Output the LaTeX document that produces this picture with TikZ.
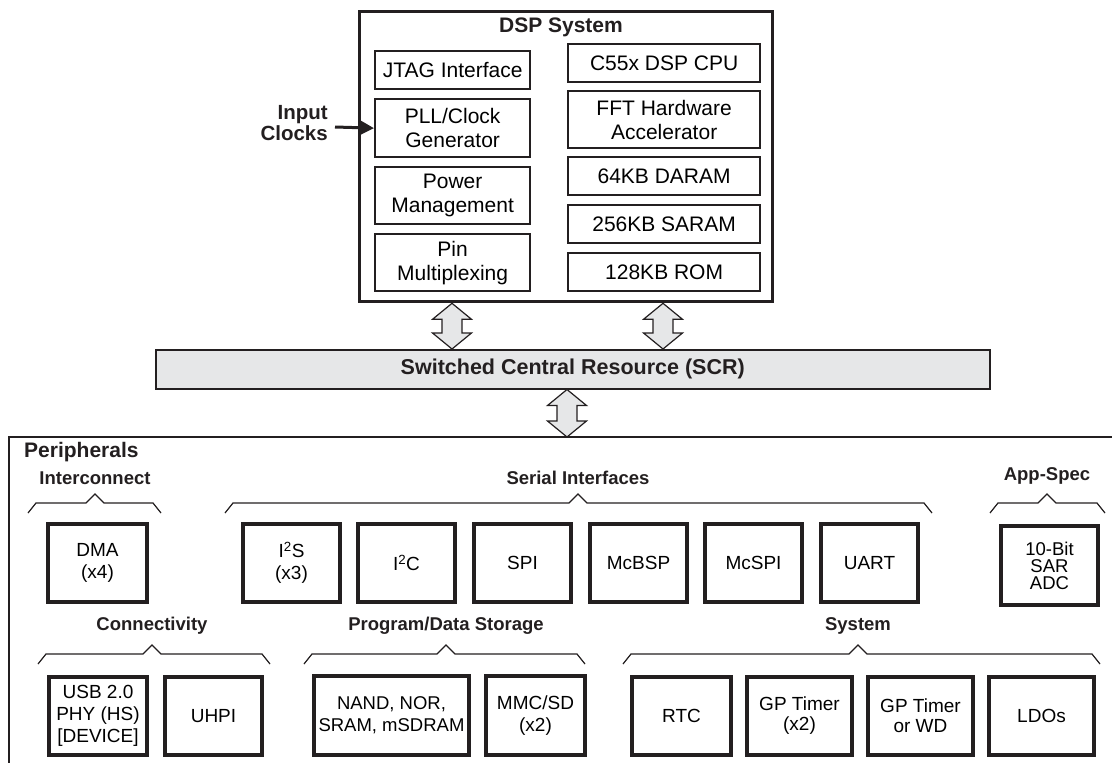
\documentclass[tikz,border=0pt]{standalone}
\usepackage{fontspec}
\setmainfont{Liberation Sans}
\usetikzlibrary{arrows.meta,calc}
\definecolor{ink}{HTML}{231F20}
\definecolor{scrgray}{HTML}{E6E7E8}
\tikzset{
  dspin/.style={draw=ink, line width=2.3pt, inner sep=0pt, align=center, anchor=north west, font=\fontsize{21}{24}\selectfont},
  pbox/.style={draw=ink, line width=4pt, inner sep=0pt, align=center, anchor=north west, font=\fontsize{19}{22}\selectfont},
  grp/.style={font=\bfseries\fontsize{18.5}{22}\selectfont, inner sep=0pt, text=ink},
  bracestyle/.style={draw=ink, line width=1.2pt, line join=miter},
  dbl/.style={draw=ink, fill=scrgray, line width=1.2pt, line join=miter},
}
\newcommand\dblarrow[3]{%
  \draw[dbl] let \p1=(#1,0 |- #2), \p2=(#1,0 |- #3) in
    (\x1,\y1) -- (\x1+19.5pt,\y1-16pt) -- (\x1+10pt,\y1-16pt) -- (\x1+10pt,\y2+16pt)
    -- (\x1+19.5pt,\y2+16pt) -- (\x1,\y2) -- (\x1-19.5pt,\y2+16pt) -- (\x1-10pt,\y2+16pt)
    -- (\x1-10pt,\y1-16pt) -- (\x1-19.5pt,\y1-16pt) -- cycle;}
\newcommand\grpbrace[4]{% x1, peak x, x2, y
  \draw[bracestyle] ({#1},{#4+10}) -- ({#1+8},{#4}) -- ({#2-9},{#4}) -- ({#2},{#4-9})
    -- ({#2+9},{#4}) -- ({#3-8},{#4}) -- ({#3},{#4+10});}
\begin{document}
\begin{tikzpicture}[x=1pt,y=-1pt]
\useasboundingbox (0,0) rectangle (1112,763);

% DSP system
\node[draw=ink, line width=3.3pt, anchor=north west, minimum width=413, minimum height=290, inner sep=0pt] (dsp) at (358,10) {};
\node[font=\bfseries\fontsize{21}{25}\selectfont, inner sep=0pt, text=ink] (dsptitle) at (561,27) {DSP System};

\node[dspin, minimum width=155, minimum height=38] (jtag) at (374,50) {JTAG Interface};
\node[dspin, minimum width=155, minimum height=58] (pll) at (374,98) {PLL/Clock\\Generator};
\node[dspin, minimum width=155, minimum height=57] (pwr) at (374,166) {Power\\Management};
\node[dspin, minimum width=155, minimum height=57] (pin) at (374,233) {Pin\\Multiplexing};

\node[dspin, minimum width=192, minimum height=38] (cpu) at (567,43) {C55x DSP CPU};
\node[dspin, minimum width=192, minimum height=57] (fft) at (567,90) {FFT Hardware\\Accelerator};
\node[dspin, minimum width=192, minimum height=38] (daram) at (567,156) {64KB DARAM};
\node[dspin, minimum width=192, minimum height=38] (saram) at (567,204) {256KB SARAM};
\node[dspin, minimum width=192, minimum height=38] (rom) at (567,252) {128KB ROM};

% input clocks
\node[font=\bfseries\fontsize{20.5}{21}\selectfont, align=right, anchor=east, inner sep=0pt, text=ink] (inclk) at (328,123) {Input\\Clocks};
\coordinate (clkin) at (335,127);
\draw[draw=ink, line width=3pt, -{Triangle[length=13pt,width=13pt]}] (clkin) -- (pll.west);

% SCR
\node[draw=ink, fill=scrgray, line width=1.5pt, anchor=north west, minimum width=834, minimum height=39, inner sep=0pt,
  font=\bfseries\fontsize{21.5}{25}\selectfont, text=ink] (scr) at (155,349) {Switched Central Resource (SCR)};

% peripherals outline
\draw[draw=ink, line width=2.8pt] (1112,437) -- (9,437) -- (9,763);
\coordinate (periph) at (567,437);

\dblarrow{452}{dsp.south}{scr.north}
\dblarrow{663}{dsp.south}{scr.north}
\dblarrow{567}{scr.south}{periph}

\node[font=\bfseries\fontsize{21}{25}\selectfont, anchor=west, inner sep=0pt, text=ink] (periphlbl) at (24,452) {Peripherals};

% row 1 groups
\node[grp] (gint) at (95,478) {Interconnect};
\grpbrace{28}{95}{161}{503}
\node[pbox, minimum width=99, minimum height=78] (dma) at (46,522) {DMA\\(x4)};

\node[grp] (gser) at (578,478) {Serial Interfaces};
\grpbrace{225}{578}{932}{503}
\node[pbox, minimum width=97, minimum height=78] (i2s) at (241,522) {I\textsuperscript{2}S\\(x3)};
\node[pbox, minimum width=97, minimum height=78] (i2c) at (356,522) {I\textsuperscript{2}C};
\node[pbox, minimum width=97, minimum height=78] (spi) at (472,522) {SPI};
\node[pbox, minimum width=97, minimum height=78] (mcbsp) at (588,522) {McBSP};
\node[pbox, minimum width=97, minimum height=78] (mcspi) at (703,522) {McSPI};
\node[pbox, minimum width=97, minimum height=78] (uart) at (819,522) {UART};

\node[grp] (gapp) at (1047,476) {App-Spec};
\grpbrace{990}{1047}{1105}{503}
\node[pbox, minimum width=97, minimum height=79, font=\fontsize{18.5}{17}\selectfont] (adc) at (999,524) {10-Bit\\SAR\\ADC};

% row 2 groups
\node[grp] (gcon) at (152,626) {Connectivity};
\grpbrace{38}{152}{270}{654}
\node[pbox, minimum width=98, minimum height=78] (usb) at (47,675) {USB 2.0\\PHY (HS)\\{}[DEVICE]};
\node[pbox, minimum width=97, minimum height=78] (uhpi) at (163,675) {UHPI};

\node[grp] (gstor) at (446,626) {Program/Data Storage};
\grpbrace{304}{446}{585}{654}
\node[pbox, minimum width=155, minimum height=79, font=\fontsize{18.5}{22}\selectfont] (nand) at (312,674) {NAND, NOR,\\SRAM, mSDRAM};
\node[pbox, minimum width=99, minimum height=79] (mmc) at (484,674) {MMC/SD\\(x2)};

\node[grp] (gsys) at (858,626) {System};
\grpbrace{623}{858}{1100}{654}
\node[pbox, minimum width=99, minimum height=78] (rtc) at (630,675) {RTC};
\node[pbox, minimum width=105, minimum height=78, font=\fontsize{19}{20}\selectfont] (gpt) at (745,675) {GP Timer\\(x2)};
\node[pbox, minimum width=105, minimum height=78, font=\fontsize{19}{20}\selectfont] (gpwd) at (866,675) {GP Timer\\or WD};
\node[pbox, minimum width=105, minimum height=78] (ldo) at (987,675) {LDOs};
\end{tikzpicture}
\end{document}
